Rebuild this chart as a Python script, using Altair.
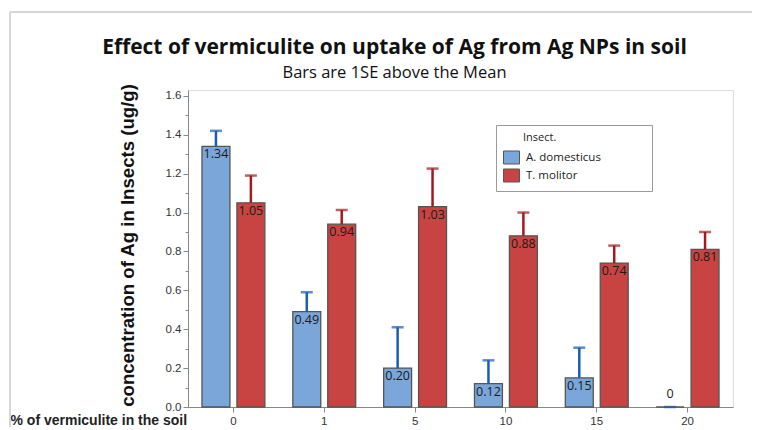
import altair as alt
import pandas as pd

vermiculite = ["0", "1", "5", "10", "15", "20"]
insects = ["A. domesticus", "T. molitor"]
dom_mean = [1.34, 0.49, 0.20, 0.12, 0.15, 0.0]
dom_se = [0.08, 0.10, 0.21, 0.12, 0.155, 0.0]
mol_mean = [1.05, 0.94, 1.03, 0.88, 0.74, 0.81]
mol_se = [0.14, 0.073, 0.196, 0.12, 0.09, 0.09]
dom_label = ["1.34", "0.49", "0.20", "0.12", "0.15", "0"]
mol_label = ["1.05", "0.94", "1.03", "0.88", "0.74", "0.81"]
y_ticks = [0.0, 0.1, 0.2, 0.3, 0.4, 0.5, 0.6, 0.7, 0.8, 0.9, 1.0,
           1.1, 1.2, 1.3, 1.4, 1.5, 1.6]

rows = []
for i, v in enumerate(vermiculite):
    rows.append({"verm": v, "insect": insects[0], "mean": dom_mean[i],
                 "top": dom_mean[i] + dom_se[i], "label": dom_label[i]})
    rows.append({"verm": v, "insect": insects[1], "mean": mol_mean[i],
                 "top": mol_mean[i] + mol_se[i], "label": mol_label[i]})
df = pd.DataFrame(rows)

FONT = "Open Sans"
fill_scale = alt.Scale(domain=insects, range=["#7ba6da", "#c84442"])
err_scale = alt.Scale(domain=insects, range=["#1a5db3", "#a3191d"])

x_axis = alt.Axis(title="% of vermiculite in the soil", labelAngle=0,
                  titleAnchor="start", titleX=-178, titleY=17,
                  titleBaseline="alphabetic", titleFontSize=14,
                  titleFontWeight=600, titleColor="#222",
                  labelFontSize=11.5, labelColor="#333", labelPadding=3,
                  tickSize=5)
x_enc = alt.X("verm:N", sort=vermiculite,
              scale=alt.Scale(paddingInner=0, paddingOuter=0), axis=x_axis)
xo_enc = alt.XOffset("insect:N", sort=insects,
                     scale=alt.Scale(paddingInner=0.2, paddingOuter=0.4))
y_scale = alt.Scale(domain=[0, 1.63], nice=False)
y_axis = alt.Axis(title="concentration of Ag in Insects  (ug/g)",
                  values=y_ticks, labelOverlap=False, labelFlush=False,
                  labelExpr="round(datum.value*10) % 2 == 0 ? format(datum.value, '.1f') : ''",
                  tickSize={"condition": {"test": "round(datum.value*10) % 2 == 0", "value": 5}, "value": 3},
                  labelFontSize=11.5, labelColor="#333", labelPadding=2,
                  titleFontSize=18.6, titleFontWeight="bold",
                  titleColor="#111", titlePadding=28, titleY=155, grid=False)

legend_title = "\u200b" + "\u00a0" * 7 + "Insect." + "\u00a0" * 31 + "\u200b"

base = alt.Chart(df)

bars = base.mark_bar(stroke="#555555", strokeWidth=1.3).encode(
    x=x_enc,
    xOffset=xo_enc,
    y=alt.Y("mean:Q", scale=y_scale, axis=y_axis),
    color=alt.Color("insect:N", scale=fill_scale, sort=insects,
                    legend=alt.Legend(
                        title=legend_title,
                        orient="none", legendX=308, legendY=35,
                        titleFontSize=11, titleFontWeight=500, titleColor="#222",
                        titleFont=FONT, titlePadding=6,
                        labelFontSize=11.5, labelFontWeight=500,
                        labelColor="#222", labelFont=FONT,
                        symbolType="M-1,-0.8125H1V0.8125H-1Z", symbolSize=256,
                        symbolStrokeColor="#555", symbolStrokeWidth=1,
                        symbolOpacity=1, labelOffset=6, rowPadding=1,
                        padding=7, strokeColor="#9a9a9a", fillColor="white")),
)

err_rule = base.mark_rule(strokeWidth=2.5).encode(
    x=x_enc, xOffset=xo_enc,
    y=alt.Y("mean:Q", scale=y_scale, axis=y_axis), y2="top:Q",
    color=alt.Color("insect:N", scale=err_scale, legend=None),
)
err_cap = base.mark_tick(thickness=2.5, size=12).encode(
    x=x_enc, xOffset=xo_enc,
    y=alt.Y("top:Q", scale=y_scale, axis=y_axis),
    color=alt.Color("insect:N", scale=err_scale, legend=None),
)

labels = base.transform_filter("datum.mean > 0").mark_text(
    baseline="top", dy=2, fontSize=12.5, color="#1a1a1a", font=FONT).encode(
    x=x_enc, xOffset=xo_enc,
    y=alt.Y("mean:Q", scale=y_scale, axis=y_axis), text="label:N")
zero_labels = base.transform_filter("datum.mean == 0").mark_text(
    baseline="bottom", dy=-6, fontSize=12.5, color="#1a1a1a", font=FONT).encode(
    x=x_enc, xOffset=xo_enc,
    y=alt.Y("mean:Q", scale=y_scale, axis=y_axis), text="label:N")

# light outer frame of the graph window
frame_left = alt.Chart(df).mark_rule(color="#d6d6d6", strokeWidth=1.5).encode(
    x=alt.value(-178), y=alt.value(-78), y2=alt.value(340))
frame_top = alt.Chart(df).mark_rule(color="#d6d6d6", strokeWidth=1.5).encode(
    x=alt.value(-178), x2=alt.value(580), y=alt.value(-78))

chart = alt.layer(bars, err_rule, err_cap, labels, zero_labels,
                  frame_left, frame_top).resolve_scale(
    color="independent"
).properties(
    width=545, height=317,
    padding={"left": 180, "top": 82, "right": 19, "bottom": 20},
    autosize=alt.AutoSizeParams(type="none"),
    title=alt.TitleParams(
        text="Effect of vermiculite on uptake of Ag from Ag NPs in soil",
        subtitle="Bars are 1SE above the Mean",
        anchor="middle", dx=-66, dy=76, offset=6,
        fontSize=21, fontWeight="bold", font=FONT, color="#111",
        subtitleFontSize=16.5, subtitleFont=FONT, subtitleColor="#111",
        subtitlePadding=7),
).configure_view(
    stroke="#a8a8a8", strokeWidth=1.2
).configure_axis(
    domainColor="#a8a8a8", tickColor="#a8a8a8", labelFont=FONT, titleFont=FONT
).configure_axisY(labelOverlap=False).configure(background="white")

chart.save("out.html", embed_options={"renderer": "svg", "actions": False})
